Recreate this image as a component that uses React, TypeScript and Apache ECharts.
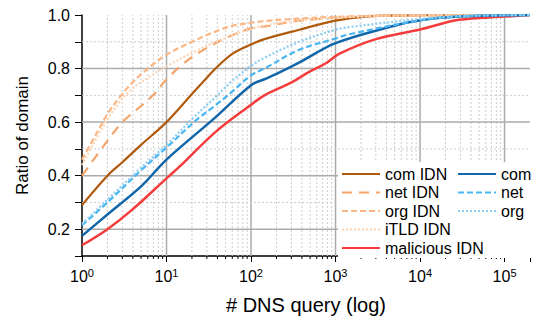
import React, { useEffect, useRef } from "react";
import * as echarts from "echarts";

// ---- data ----
const comIdnX = [1, 2, 3, 5, 10, 20, 28, 38, 60, 100, 144, 372, 1000, 2500, 10000, 200000];
const comIdnY = [0.29, 0.40, 0.45, 0.515, 0.60, 0.705, 0.755, 0.80, 0.855, 0.89, 0.91, 0.945, 0.979, 0.995, 0.999, 1.0];

const netIdnX = [1, 2, 3, 5, 7.4, 10, 17.6, 30, 52, 100, 165, 300, 1000, 3000, 10000, 200000];
const netIdnY = [0.40, 0.53, 0.60, 0.66, 0.71, 0.76, 0.83, 0.877, 0.916, 0.95, 0.96, 0.975, 0.99, 0.997, 0.999, 1.0];

const orgIdnX = [1, 1.5, 2.1, 3, 4, 6, 10, 20, 35, 58, 95, 144, 300, 1000, 10000, 200000];
const orgIdnY = [0.46, 0.56, 0.64, 0.705, 0.75, 0.80, 0.852, 0.90, 0.934, 0.958, 0.97, 0.977, 0.985, 0.993, 0.999, 1.0];

const itldIdnX = [1, 2, 3.5, 6, 9, 22, 55, 140, 400, 1000, 10000, 200000];
const itldIdnY = [0.44, 0.61, 0.71, 0.765, 0.80, 0.865, 0.92, 0.96, 0.98, 0.99, 0.999, 1.0];

const malIdnX = [1, 2, 4, 10, 15, 37, 100, 144, 310, 470, 770, 1100, 3000, 10000, 29000, 100000, 200000];
const malIdnY = [0.14, 0.20, 0.275, 0.39, 0.44, 0.56, 0.665, 0.70, 0.75, 0.785, 0.82, 0.855, 0.91, 0.946, 0.982, 0.994, 1.0];

const comX = [1, 2, 5, 10, 37, 100, 144, 200, 400, 1000, 4700, 10000, 29000, 100000, 200000];
const comY = [0.175, 0.255, 0.36, 0.46, 0.615, 0.738, 0.76, 0.78, 0.828, 0.895, 0.958, 0.98, 0.994, 0.999, 1.0];

const netX = [1, 2, 5, 10, 23, 37, 58, 100, 144, 372, 1000, 1450, 10000, 30000, 100000, 200000];
const netY = [0.215, 0.30, 0.42, 0.505, 0.61, 0.66, 0.71, 0.775, 0.80, 0.87, 0.912, 0.928, 0.98, 0.995, 0.999, 1.0];

const orgX = [1, 2, 5, 10, 23, 37, 58, 100, 144, 372, 1000, 1450, 10000, 30000, 100000, 200000];
const orgY = [0.22, 0.31, 0.43, 0.515, 0.63, 0.69, 0.75, 0.81, 0.84, 0.90, 0.945, 0.955, 0.985, 0.996, 0.999, 1.0];

const legendLeft = ["com IDN", "net IDN", "org IDN", "iTLD IDN", "malicious IDN"];
const legendRight = ["com", "net", "org"];

const xMajor = [10, 100, 1000, 10000, 100000];
const xMinor = [
  2, 3, 4, 5, 6, 7, 8, 9,
  20, 30, 40, 50, 60, 70, 80, 90,
  200, 300, 400, 500, 600, 700, 800, 900,
  2000, 3000, 4000, 5000, 6000, 7000, 8000, 9000,
  20000, 30000, 40000, 50000, 60000, 70000, 80000, 90000,
];
const yMajor = [0.2, 0.4, 0.6, 0.8];
const yMinor = [0.3, 0.5, 0.7, 0.9];

const X_MIN = 1;
const X_MAX = 200000;
const Y_MIN = 0.1;
const Y_MAX = 1.0;

const FONT = "Liberation Sans, Arial, sans-serif";

const zip = (xs: number[], ys: number[]) => xs.map((x, i) => [x, ys[i]]);

export default function App() {
  const ref = useRef<HTMLDivElement>(null);
  useEffect(() => {
    document.body.style.margin = "0";
    const chart = echarts.init(ref.current!, undefined, { renderer: "svg" });

    const lineSeries = (name: string, xs: number[], ys: number[], color: string, width: number, dash: any) => ({
      name,
      type: "line",
      data: zip(xs, ys),
      symbol: "none",
      smooth: 0.35,
      z: 5,
      lineStyle: { color, width, type: dash, cap: "butt" },
      itemStyle: { color },
    });

    const gridV = {
      type: "custom",
      name: "grid-v",
      silent: true,
      z: 1,
      data: [...xMajor.map((v) => [v, 1]), ...xMinor.map((v) => [v, 0])],
      encode: { x: 0 },
      clip: false,
      renderItem: (params: any, api: any) => {
        const q = api.value(0);
        const major = api.value(1) === 1;
        const p0 = api.coord([q, Y_MIN]);
        const p1 = api.coord([q, Y_MAX]);
        return {
          type: "group",
          children: [
            {
              type: "line",
              shape: { x1: p0[0], y1: p0[1], x2: p1[0], y2: p1[1] },
              style: major
                ? { stroke: "#ababab", lineWidth: 1.5 }
                : { stroke: "#cdcdcd", lineWidth: 1, lineDash: [2, 2] },
            },
            {
              type: "line",
              shape: { x1: p0[0], y1: p0[1], x2: p0[0], y2: p0[1] + (major ? 0 : 3) },
              style: { stroke: "#000", lineWidth: 1 },
            },
          ],
        };
      },
    };

    const gridH = {
      type: "custom",
      name: "grid-h",
      silent: true,
      z: 1,
      data: [...yMajor.map((v) => [v, 1]), ...yMinor.map((v) => [v, 0])],
      encode: { y: 0 },
      renderItem: (params: any, api: any) => {
        const v = api.value(0);
        const major = api.value(1) === 1;
        const p0 = api.coord([X_MIN, v]);
        const p1 = api.coord([X_MAX, v]);
        return {
          type: "line",
          shape: { x1: p0[0], y1: p0[1], x2: p1[0], y2: p1[1] },
          style: major
            ? { stroke: "#ababab", lineWidth: 1.5 }
            : { stroke: "#cdcdcd", lineWidth: 1, lineDash: [2, 2] },
        };
      },
    };

    const legendCommon = {
      orient: "vertical",
      top: 166,
      itemWidth: 38,
      itemHeight: 14,
      itemGap: 2.5,
      padding: 0,
      z: 20,
      selectedMode: false,
      itemStyle: { opacity: 0 },
      textStyle: { fontSize: 16, lineHeight: 16, color: "#000", fontFamily: FONT },
    };

    chart.setOption({
      animation: false,
      textStyle: { fontFamily: FONT },
      grid: { left: 82, right: 3, top: 15, bottom: 55, containLabel: false },
      graphic: [
        {
          type: "rect",
          z: 10,
          silent: true,
          shape: { x: 338, y: 162, width: 195, height: 96 },
          style: { fill: "#fff" },
        },
      ],
      legend: [
        { ...legendCommon, left: 341, data: legendLeft },
        { ...legendCommon, left: 457, data: legendRight },
      ],
      xAxis: {
        type: "log",
        logBase: 10,
        min: X_MIN,
        max: X_MAX,
        splitNumber: 6,
        name: "# DNS query (log)",
        nameLocation: "middle",
        nameGap: 39,
        nameTextStyle: { fontSize: 20, color: "#000", fontFamily: FONT },
        axisLine: { lineStyle: { color: "#000", width: 1.5 } },
        axisTick: { show: true, length: 6, lineStyle: { color: "#000", width: 1 } },
        splitLine: { show: false },
        axisLabel: {
          margin: 11,
          color: "#000",
          formatter: (v: number) => {
            const e = Math.round(Math.log10(v));
            if (Math.abs(v - Math.pow(10, e)) > 1e-6 * v) return "";
            return `{b|10}{s|${e}}`;
          },
          rich: {
            b: { fontSize: 16, color: "#000", fontFamily: FONT, lineHeight: 18 },
            s: { fontSize: 11, color: "#000", fontFamily: FONT, verticalAlign: "top", lineHeight: 18 },
          },
        },
      },
      yAxis: {
        type: "value",
        min: Y_MIN,
        max: Y_MAX,
        interval: 0.1,
        name: "Ratio of domain",
        nameLocation: "middle",
        nameGap: 51,
        nameTextStyle: { fontSize: 17, color: "#000", fontFamily: FONT },
        axisLine: { show: true, lineStyle: { color: "#000", width: 1.5 } },
        axisTick: { show: true, length: 7, lineStyle: { color: "#000", width: 1 } },
        splitLine: { show: false },
        axisLabel: {
          margin: 12,
          color: "#000",
          fontSize: 16,
          fontFamily: FONT,
          formatter: (v: number) => (Math.round(v * 10) % 2 === 0 ? v.toFixed(1) : ""),
        },
      },
      series: [
        gridV,
        gridH,
        lineSeries("com IDN", comIdnX, comIdnY, "#b05a0c", 2.2, "solid"),
        lineSeries("net IDN", netIdnX, netIdnY, "#f4a46a", 2.2, [10, 7]),
        lineSeries("org IDN", orgIdnX, orgIdnY, "#fbb685", 2.2, [6, 3]),
        lineSeries("iTLD IDN", itldIdnX, itldIdnY, "#fdd3b2", 2.2, [2, 2]),
        lineSeries("malicious IDN", malIdnX, malIdnY, "#f53c3c", 2.5, "solid"),
        lineSeries("com", comX, comY, "#1266aa", 2.5, "solid"),
        lineSeries("net", netX, netY, "#49b6f2", 2.2, [6, 3]),
        lineSeries("org", orgX, orgY, "#8acdf6", 2.2, [2, 2]),
      ],
    });
    return () => chart.dispose();
  }, []);
  return <div ref={ref} style={{ width: 533, height: 320 }} />;
}
